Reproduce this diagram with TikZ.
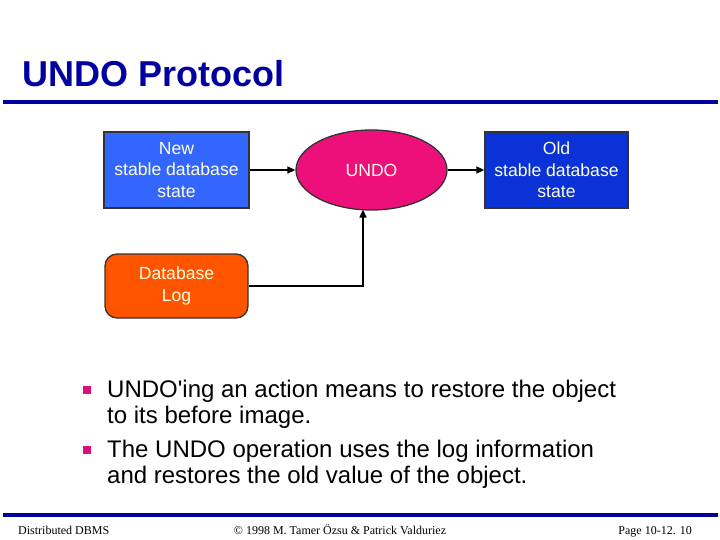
\documentclass[tikz,border=0pt]{standalone}
\usepackage{fontspec}
\setmainfont{Liberation Sans}
\newfontfamily\footfont{Liberation Serif}
\usetikzlibrary{arrows.meta,shapes.geometric}
\definecolor{titleblue}{RGB}{0,0,160}
\definecolor{newblue}{RGB}{51,102,255}
\definecolor{oldblue}{RGB}{10,50,215}
\definecolor{undopink}{RGB}{238,16,122}
\definecolor{logorange}{RGB}{255,85,0}
\definecolor{cream}{RGB}{255,255,225}
\definecolor{bulletpink}{RGB}{220,16,120}
\tikzset{
  boxnode/.style={draw=black!80, line width=1.3pt, text=cream, align=center,
    minimum width=145pt, minimum height=76pt, inner sep=0pt,
    font=\fontsize{17.6}{21.5}\selectfont},
  conn/.style={line width=1.6pt, -{Triangle[length=8pt,width=7pt]}},
  bulletsq/.style={fill=bulletpink, minimum size=8pt, inner sep=0pt},
  bullettext/.style={anchor=base west, align=left, inner sep=0pt,
    font=\fontsize{24}{25.5}\selectfont},
  foot/.style={anchor=base, inner sep=0pt, font=\footfont\fontsize{12}{14}\selectfont}
}
\begin{document}
\begin{tikzpicture}[x=1pt,y=-1pt]
\useasboundingbox (0,0) rectangle (720,540);
\fill[white] (0,0) rectangle (720,540);
\node[anchor=base west, inner sep=0pt, text=titleblue,
  font=\bfseries\fontsize{36}{40}\selectfont] (title) at (22,87) {UNDO Protocol};
\fill[titleblue] (3,100) rectangle (718,104);

\node[boxnode, fill=newblue] (new) at (176.5,170) {New\\stable database\\state};
\node[ellipse, draw=black!80, line width=1.3pt, fill=undopink, text=cream,
  minimum width=151pt, minimum height=80pt, inner sep=0pt,
  font=\fontsize{17.6}{21.5}\selectfont] (undo) at (371.5,170) {UNDO};
\node[boxnode, fill=oldblue, minimum width=143pt] (old) at (556.5,170) {Old\\stable database\\state};
\node[boxnode, fill=logorange, rounded corners=12pt, minimum width=143pt,
  minimum height=64pt] (log) at (176.5,286) {Database\\Log};

\coordinate (tip) at (363,209.6);
\draw[conn] (new.east) -- (undo.west);
\draw[conn] (undo.east) -- (old.west);
\draw[conn] (log.east) -| (tip);

\node[bulletsq] (b1) at (87,390) {};
\node[bullettext] (t1) at (107,423) {UNDO\textquotesingle ing an action means to restore the object\\to its before image.};
\node[bulletsq] (b2) at (87,450) {};
\node[bullettext] (t2) at (107,483) {The UNDO operation uses the log information\\and restores the old value of the object.};

\fill[titleblue] (3,513) rectangle (718,517);
\node[foot, anchor=base west] (f1) at (18,534) {Distributed DBMS};
\node[foot] (f2) at (340,534) {© 1998 M. Tamer Özsu \& Patrick Valduriez};
\node[foot, anchor=base east] (f3) at (692,534) {Page 10-12. 10};
\end{tikzpicture}
\end{document}
